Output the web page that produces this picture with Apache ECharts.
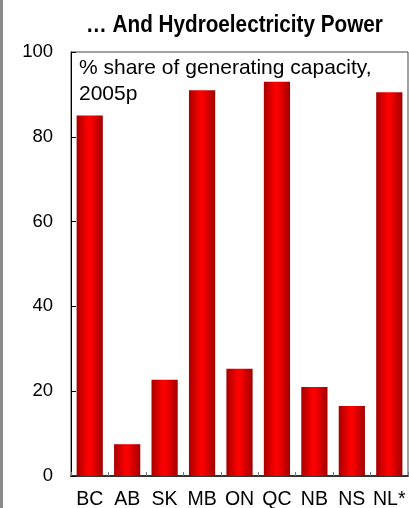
<!DOCTYPE html>
<html>
<head>
<meta charset="utf-8">
<script src="https://cdn.jsdelivr.net/npm/echarts@6/dist/echarts.min.js"></script>
<style>
  html, body { margin: 0; padding: 0; background: #fff; }
  #chart { width: 409px; height: 508px; }
</style>
</head>
<body>
<div id="chart"></div>
<script>
// Hydroelectric share of generating capacity by province, 2005p
const provinces = ['BC', 'AB', 'SK', 'MB', 'ON', 'QC', 'NB', 'NS', 'NL*'];
const hydroShare = [85, 7.5, 22.7, 91, 25.3, 93, 21, 16.5, 90.5];
const yTicks = [0, 20, 40, 60, 80, 100];

const chart = echarts.init(document.getElementById('chart'), null, { renderer: 'canvas' });

const barGradient = new echarts.graphic.LinearGradient(0, 0, 1, 0, [
  { offset: 0, color: '#a80000' },
  { offset: 0.45, color: '#ff0000' },
  { offset: 0.6, color: '#f00000' },
  { offset: 1, color: '#a00000' }
]);

chart.setOption({
  animation: false,
  backgroundColor: '#ffffff',
  graphic: [
    {
      type: 'rect',
      left: 0,
      top: 0,
      shape: { width: 3, height: 508 },
      style: { fill: '#8a8a8a' },
      silent: true
    },
    {
      // condensed bold heading
      type: 'text',
      x: 234.5,
      y: 14,
      scaleX: 0.9,
      style: {
        text: '… And Hydroelectricity Power',
        font: 'bold 23px "Liberation Sans", Arial, sans-serif',
        textAlign: 'center',
        textVerticalAlign: 'top',
        fill: '#000'
      }
    },
    {
      type: 'text',
      left: 79,
      top: 55,
      style: {
        text: '% share of generating capacity,\n2005p',
        fontFamily: 'Liberation Sans',
        fontSize: 21,
        lineHeight: 26,
        fill: '#000'
      }
    }
  ],
  grid: {
    left: 71,
    right: 1,
    top: 52,
    bottom: 32,
    show: true,
    borderColor: '#444',
    borderWidth: 1,
    containLabel: false,
    outerBoundsMode: 'none'
  },
  xAxis: {
    type: 'category',
    data: provinces,
    boundaryGap: true,
    axisLine: { show: true, lineStyle: { color: '#333', width: 2 } },
    axisTick: { show: true, inside: true, length: 4, lineStyle: { color: '#777' } },
    axisLabel: {
      fontFamily: 'Liberation Sans',
      fontSize: 19.5,
      color: '#000',
      margin: 14,
      interval: 0
    }
  },
  yAxis: {
    type: 'value',
    min: yTicks[0],
    max: yTicks[yTicks.length - 1],
    interval: 20,
    splitLine: { show: false },
    axisLine: { show: true, lineStyle: { color: '#000', width: 1 } },
    axisTick: { show: true, inside: true, length: 5, lineStyle: { color: '#000' } },
    axisLabel: {
      fontFamily: 'Liberation Sans',
      fontSize: 18.5,
      color: '#000',
      margin: 18
    }
  },
  series: [
    {
      type: 'bar',
      data: hydroShare,
      barWidth: '70%',
      itemStyle: { color: barGradient }
    }
  ]
});
</script>
</body>
</html>
